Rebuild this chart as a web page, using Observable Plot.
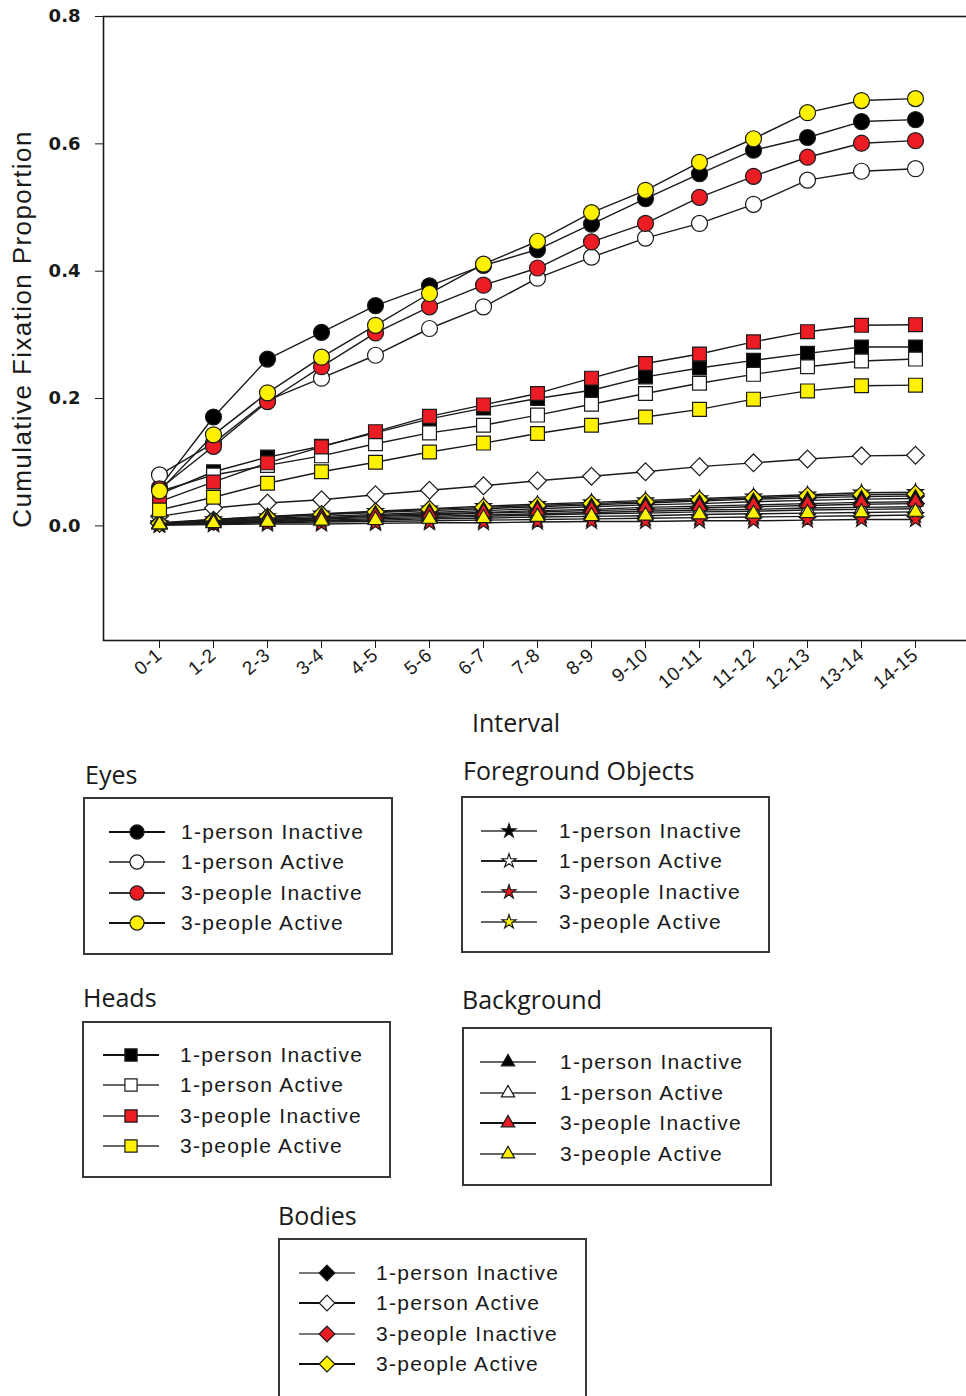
<!DOCTYPE html>
<html>
<head>
<meta charset="utf-8">
<script src="https://cdn.jsdelivr.net/npm/d3@7"></script>
<script src="https://cdn.jsdelivr.net/npm/@observablehq/plot@0.6"></script>
<style>
  body { margin: 0; background: #fff; }
  #wrap { position: relative; width: 966px; height: 1396px; overflow: hidden; background: #fff; font-family: "Liberation Sans", Arial, sans-serif; color: #1a1a1a; }
  #chart { position: absolute; left: 0; top: 0; }
  .ylab { position: absolute; left: 22px; top: 329px; white-space: nowrap; font-size: 26px; letter-spacing: 1.4px; transform: translate(-50%, -50%) rotate(-90deg); line-height: 26px; }
  .xlab { position: absolute; left: 516px; top: 710px; transform: translateX(-50%); font-family: "Open Sans", sans-serif; font-size: 25px; line-height: 25px; white-space: nowrap; }
  .ltitle { position: absolute; font-family: "Open Sans", sans-serif; font-size: 25px; line-height: 25px; white-space: nowrap; color: #1a1a1a; }
  .lbox { position: absolute; box-sizing: border-box; border: 2px solid #383838; }
  .ltext { position: absolute; font-size: 21px; line-height: 21px; letter-spacing: 1.3px; white-space: nowrap; }
  .lsw { position: absolute; }
  [aria-label="x-axis tick label"] text { letter-spacing: 0.6px; }
</style>
</head>
<body>
<div id="wrap"><div id="chart"></div></div>
<script>
// ---------------- data ----------------
const intervals = ["0-1","1-2","2-3","3-4","4-5","5-6","6-7","7-8","8-9","9-10","10-11","11-12","12-13","13-14","14-15"];
const conditions = ["1-person Inactive","1-person Active","3-people Inactive","3-people Active"];
const groups = ["Eyes","Foreground Objects","Heads","Background","Bodies"];
const yTicks = [0.0, 0.2, 0.4, 0.6, 0.8];

// Eyes (circles)
const eyes1PInactive = [0.060,0.171,0.262,0.304,0.346,0.377,0.409,0.434,0.474,0.514,0.553,0.590,0.610,0.635,0.638];
const eyes1PActive   = [0.080,0.130,0.197,0.232,0.268,0.310,0.344,0.389,0.422,0.452,0.475,0.505,0.543,0.557,0.561];
const eyes3PInactive = [0.058,0.125,0.195,0.250,0.303,0.344,0.378,0.405,0.446,0.475,0.516,0.549,0.579,0.601,0.605];
const eyes3PActive   = [0.055,0.143,0.209,0.265,0.315,0.365,0.411,0.447,0.492,0.527,0.571,0.608,0.649,0.668,0.671];

// Heads (squares)
const heads1PInactive = [0.050,0.085,0.108,0.125,0.146,0.168,0.185,0.200,0.213,0.234,0.248,0.260,0.271,0.281,0.281];
const heads1PActive   = [0.054,0.080,0.095,0.110,0.129,0.146,0.158,0.174,0.191,0.208,0.224,0.238,0.250,0.259,0.262];
const heads3PInactive = [0.038,0.069,0.099,0.124,0.148,0.172,0.190,0.208,0.232,0.255,0.270,0.289,0.305,0.315,0.316];
const heads3PActive   = [0.025,0.045,0.067,0.085,0.100,0.116,0.130,0.145,0.158,0.171,0.183,0.199,0.212,0.220,0.221];

// Bodies (diamonds)
const bodies1PInactive = [0.005,0.010,0.014,0.018,0.021,0.024,0.027,0.030,0.033,0.036,0.039,0.042,0.044,0.046,0.047];
const bodies1PActive   = [0.015,0.028,0.036,0.041,0.049,0.056,0.063,0.071,0.078,0.085,0.093,0.099,0.105,0.110,0.111];
const bodies3PInactive = [0.004,0.007,0.010,0.012,0.015,0.017,0.020,0.022,0.024,0.026,0.028,0.030,0.032,0.034,0.035];
const bodies3PActive   = [0.004,0.009,0.014,0.018,0.022,0.026,0.029,0.032,0.035,0.038,0.041,0.044,0.047,0.049,0.050];

// Foreground Objects (stars)
const fg1PInactive = [0.003,0.006,0.008,0.011,0.013,0.015,0.017,0.019,0.021,0.023,0.025,0.026,0.028,0.029,0.030];
const fg1PActive   = [0.002,0.003,0.005,0.006,0.007,0.008,0.009,0.010,0.011,0.012,0.013,0.014,0.015,0.016,0.017];
const fg3PInactive = [0.001,0.002,0.003,0.003,0.004,0.005,0.005,0.006,0.007,0.007,0.008,0.008,0.009,0.010,0.010];
const fg3PActive   = [0.004,0.010,0.015,0.019,0.023,0.027,0.031,0.034,0.037,0.040,0.043,0.046,0.049,0.052,0.053];

// Background (triangles)
const bg1PInactive = [0.004,0.008,0.012,0.015,0.018,0.021,0.024,0.027,0.030,0.033,0.035,0.038,0.040,0.042,0.043];
const bg1PActive   = [0.002,0.005,0.007,0.009,0.011,0.013,0.015,0.017,0.019,0.020,0.022,0.023,0.025,0.026,0.027];
const bg3PInactive = [0.003,0.007,0.010,0.013,0.016,0.019,0.021,0.024,0.026,0.029,0.031,0.033,0.035,0.037,0.038];
const bg3PActive   = [0.002,0.004,0.006,0.008,0.009,0.011,0.012,0.014,0.015,0.016,0.018,0.019,0.020,0.021,0.022];

// ---------------- styling ----------------
const seriesValues = {
  "Eyes": [eyes1PInactive, eyes1PActive, eyes3PInactive, eyes3PActive],
  "Heads": [heads1PInactive, heads1PActive, heads3PInactive, heads3PActive],
  "Bodies": [bodies1PInactive, bodies1PActive, bodies3PInactive, bodies3PActive],
  "Foreground Objects": [fg1PInactive, fg1PActive, fg3PInactive, fg3PActive],
  "Background": [bg1PInactive, bg1PActive, bg3PInactive, bg3PActive]
};
const fills = ["#000000", "#ffffff", "#ec1c24", "#fff200"];
const symbolName = {"Eyes":"circle","Heads":"square","Bodies":"diamond2","Foreground Objects":"star","Background":"triangle"};
const d3Symbol = {"Eyes":d3.symbolCircle,"Heads":d3.symbolSquare,"Bodies":d3.symbolDiamond2,"Foreground Objects":d3.symbolStar,"Background":d3.symbolTriangle};
const radius = {"Eyes":8,"Heads":7.8,"Bodies":8,"Foreground Objects":5,"Background":5.6};
const drawOrder = ["Foreground Objects","Bodies","Background","Heads","Eyes"];
const ink = "#1a1a1a";

const marks = [];
for (const g of drawOrder) {
  conditions.forEach((c, k) => {
    const rows = intervals.map((iv, i) => ({group: g, condition: c, interval: iv, value: seriesValues[g][k][i]}));
    marks.push(Plot.line(rows, {x: "interval", y: "value", stroke: ink, strokeWidth: 1.4}));
    marks.push(Plot.dot(rows, {x: "interval", y: "value", symbol: symbolName[g], fill: fills[k], stroke: ink, strokeWidth: 1.2, r: radius[g]}));
  });
}

const chart = Plot.plot({
  width: 966,
  height: 700,
  marginTop: 16,
  marginBottom: 60,
  marginLeft: 103,
  marginRight: -2,
  style: {background: "#fff", color: ink},
  x: {type: "point", domain: intervals, padding: 0.972, align: 0.517},
  y: {domain: [-0.18, 0.8]},
  marks: [
    ...marks,
    Plot.frame({stroke: ink, strokeWidth: 1.6}),
    Plot.axisY({ticks: yTicks, tickFormat: d3.format(".1f"), tickSize: 8, tickPadding: 15, fontSize: 18, fontFamily: "DejaVu Sans", fontWeight: "bold", label: null, stroke: ink, fill: ink}),
    Plot.axisX({tickSize: 8, tickPadding: 4, tickRotate: -40, fontSize: 19, fontFamily: "Liberation Sans", label: null, stroke: ink, fill: ink})
  ]
});
document.getElementById("chart").appendChild(chart);

const wrap = document.getElementById("wrap");
function addDiv(cls, text, styles) {
  const d = document.createElement("div");
  d.className = cls;
  if (text != null) d.textContent = text;
  Object.assign(d.style, styles);
  wrap.appendChild(d);
  return d;
}
addDiv("ylab", "Cumulative Fixation Proportion", {});
addDiv("xlab", "Interval", {});

// ---------------- legends ----------------
const legendLayout = [
  {group: "Eyes", title: [85, 762], box: [83, 797, 310, 158], swatchX: 108, textX: 181, rows: [832, 862, 893, 923], lines: ["#111", "#555", "#333", "#111"]},
  {group: "Foreground Objects", title: [463, 758], box: [461, 796, 309, 157], swatchX: 480, textX: 559, rows: [831, 861, 892, 922], lines: ["#666", "#222", "#666", "#666"]},
  {group: "Heads", title: [83, 985], box: [82, 1021, 309, 157], swatchX: 102, textX: 180, rows: [1055, 1085, 1116, 1146], lines: ["#111", "#666", "#666", "#666"]},
  {group: "Background", title: [462, 987], box: [462, 1027, 310, 159], swatchX: 479, textX: 560, rows: [1062, 1093, 1123, 1154], lines: ["#666", "#666", "#111", "#666"]},
  {group: "Bodies", title: [278, 1203], box: [278, 1238, 309, 170], swatchX: 298, textX: 376, rows: [1273, 1303, 1334, 1364], lines: ["#777", "#111", "#777", "#111"]}
];

for (const L of legendLayout) {
  addDiv("ltitle", L.group, {left: L.title[0] + "px", top: L.title[1] + "px"});
  addDiv("lbox", null, {left: L.box[0] + "px", top: L.box[1] + "px", width: L.box[2] + "px", height: L.box[3] + "px"});
  conditions.forEach((c, k) => {
    const y = L.rows[k];
    const svg = d3.create("svg").attr("width", 60).attr("height", 24).attr("class", "lsw")
      .style("left", L.swatchX + "px").style("top", (y - 12) + "px").style("position", "absolute");
    svg.append("line").attr("x1", 1).attr("x2", 57).attr("y1", 12).attr("y2", 12).attr("stroke", L.lines[k]).attr("stroke-width", 2.2);
    const r = radius[L.group] * 0.88;
    svg.append("path")
      .attr("d", d3.symbol(d3Symbol[L.group], Math.PI * r * r)())
      .attr("transform", "translate(29,12)")
      .attr("fill", fills[k]).attr("stroke", ink).attr("stroke-width", 1.2);
    wrap.appendChild(svg.node());
    addDiv("ltext", c, {left: L.textX + "px", top: (y - 11) + "px"});
  });
}
</script>
</body>
</html>
